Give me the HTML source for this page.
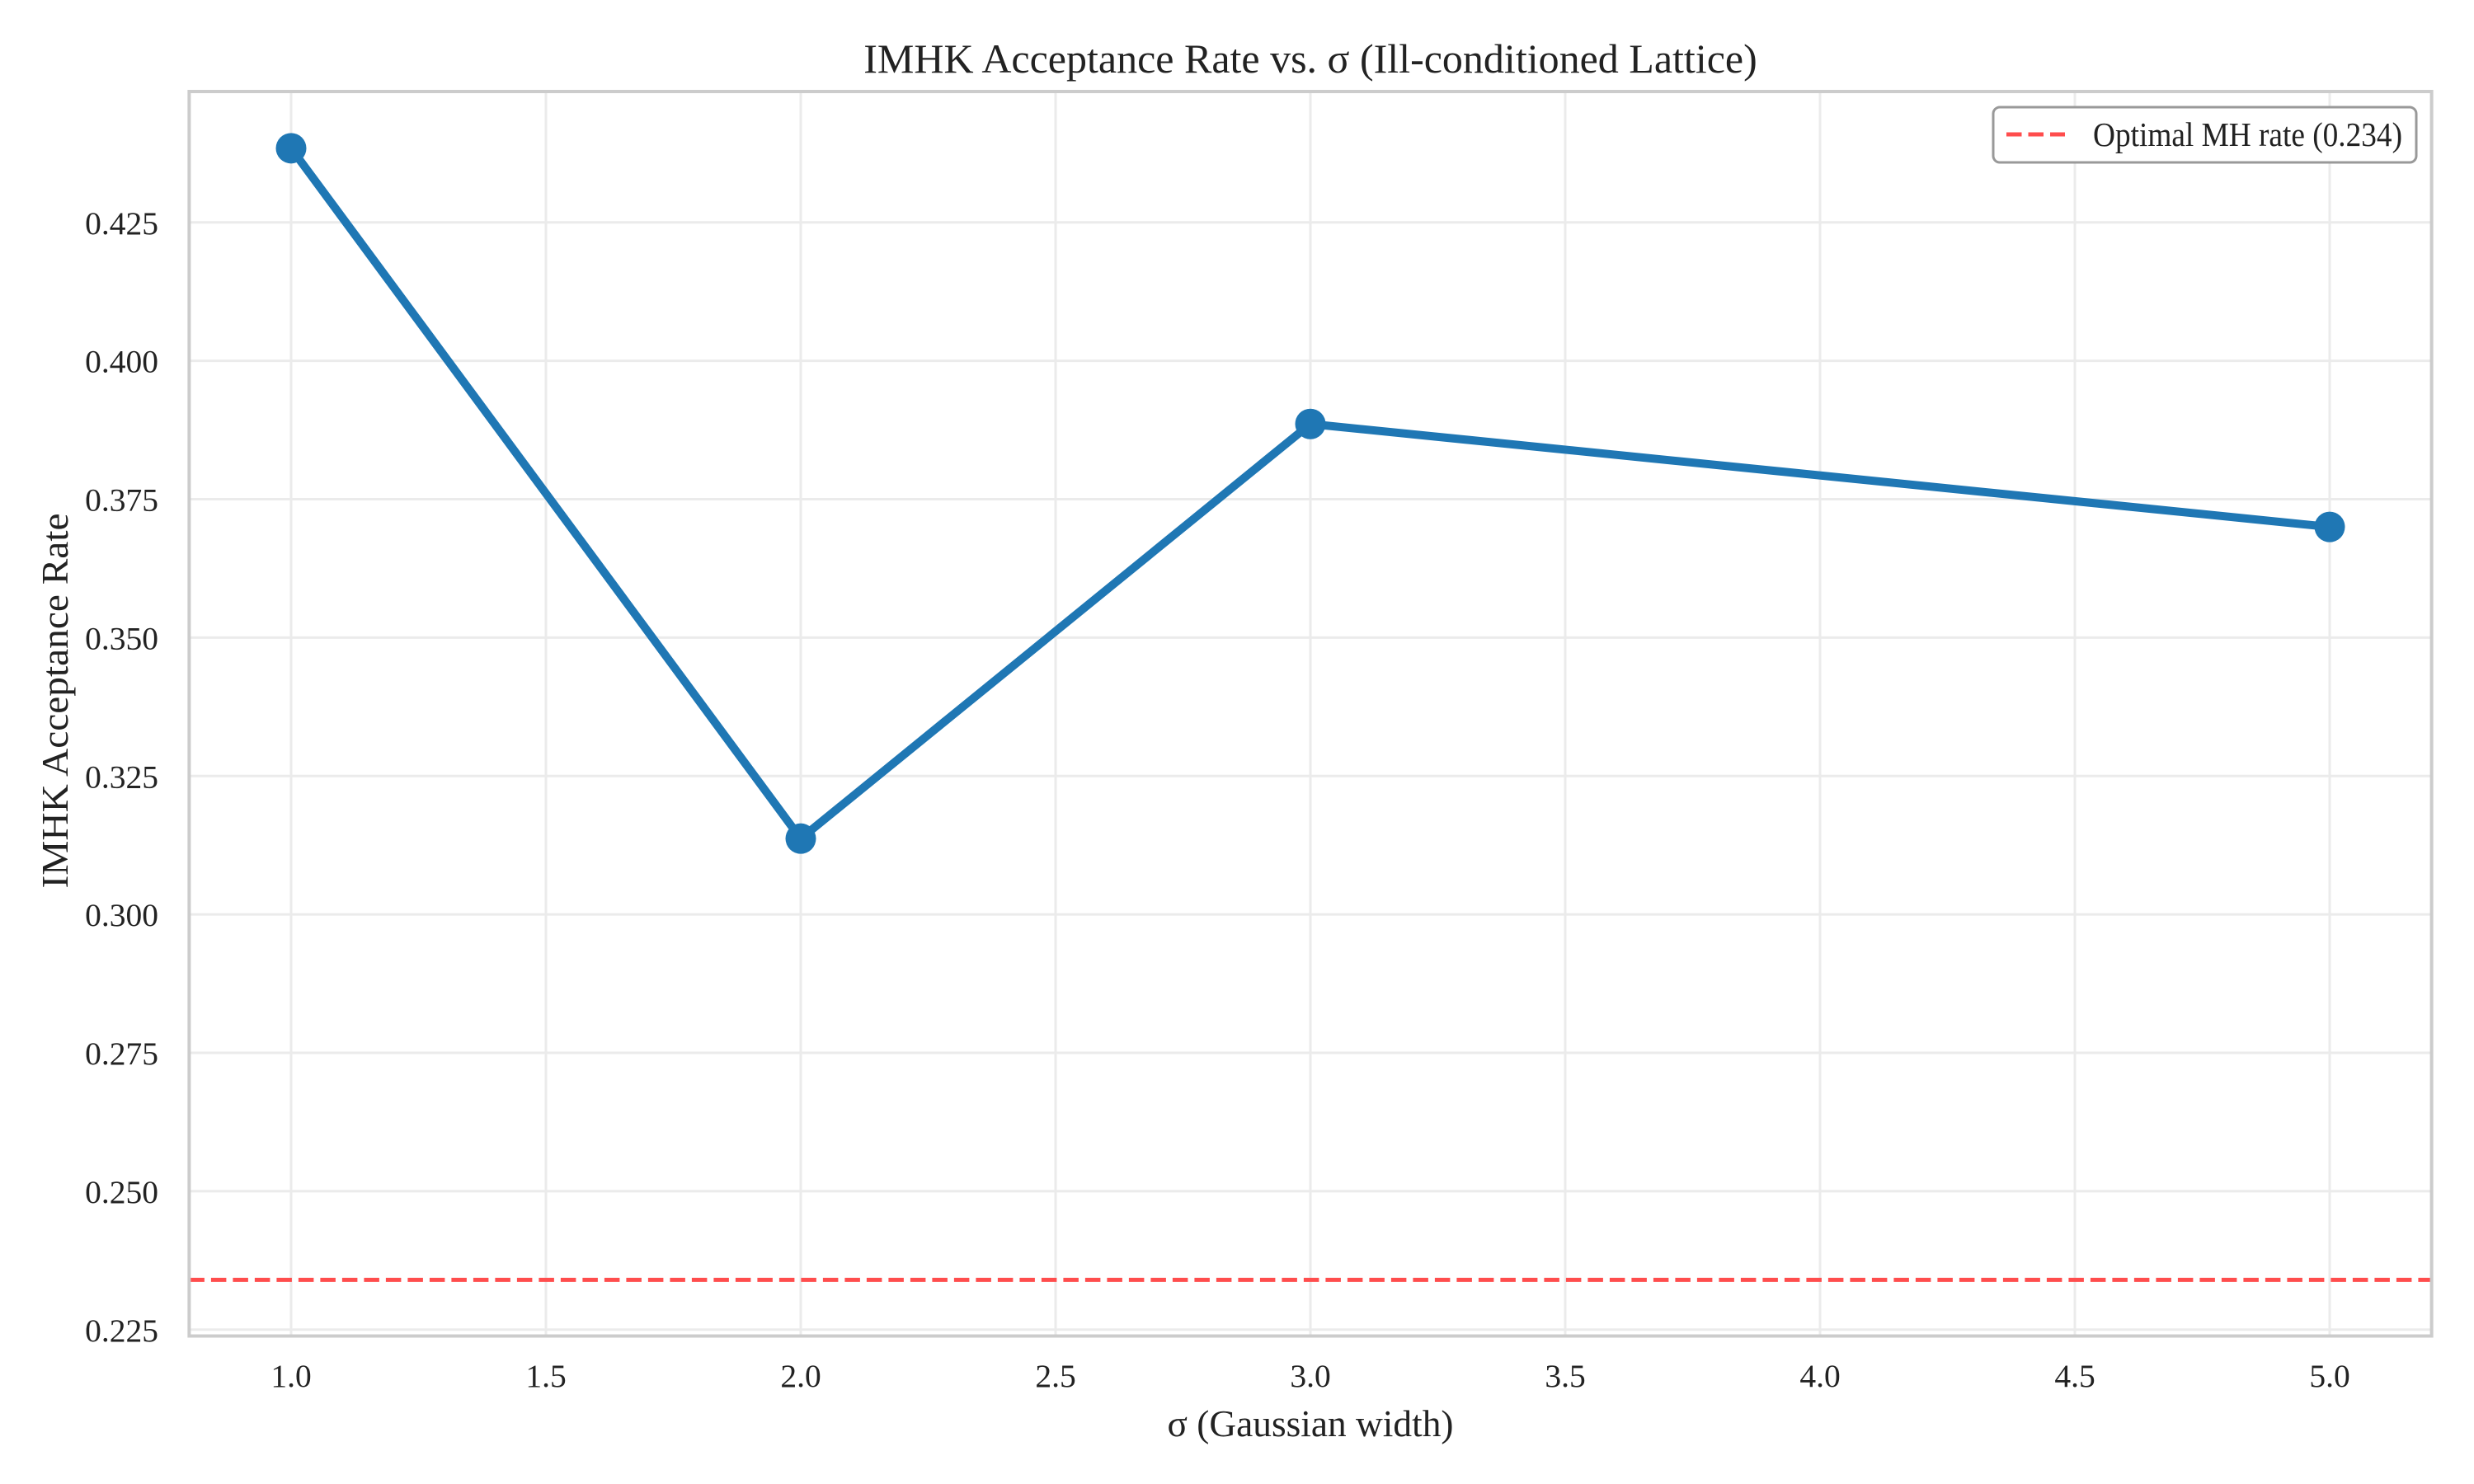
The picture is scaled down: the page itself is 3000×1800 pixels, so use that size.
<!DOCTYPE html>
<html><head><meta charset="utf-8"><style>
html,body{margin:0;padding:0;background:#fff}
svg{display:block;font-family:"Liberation Serif","DejaVu Serif",serif}
</style></head><body>
<svg id="chart" width="3000" height="1800" viewBox="0 0 3000 1800" xmlns="http://www.w3.org/2000/svg">
<rect width="3000" height="1800" fill="#fff"/>
<g id="grid"></g>
<g id="ticks"></g>
<g id="series"></g>
<rect x="229.4" y="111" width="2719.2" height="1509.5" fill="none" stroke="#cccccc" stroke-width="4"/>
<text x="1589" y="88" font-size="50" text-anchor="middle" fill="#222">IMHK Acceptance Rate vs. σ (Ill-conditioned Lattice)</text>
<text x="1589" y="1742" font-size="46" text-anchor="middle" fill="#222" textLength="347" lengthAdjust="spacingAndGlyphs">σ (Gaussian width)</text>
<text x="0" y="0" font-size="46" text-anchor="middle" fill="#222" textLength="455" lengthAdjust="spacingAndGlyphs" transform="translate(82,850) rotate(-90)">IMHK Acceptance Rate</text>
<g>
<rect x="2417" y="130" width="513" height="67" rx="8" fill="#fff" stroke="#999" stroke-width="3"/>
<line x1="2433" y1="163" x2="2504" y2="163" stroke="#ff4d4d" stroke-width="5" stroke-dasharray="18.5,8"/>
<text x="2538" y="177" font-size="41.7" fill="#222" textLength="375" lengthAdjust="spacingAndGlyphs">Optimal MH rate (0.234)</text>
</g>
</svg>
<script>
const sigmaValues = [1.0, 2.0, 3.0, 5.0];
const acceptanceRates = [0.4384, 0.3137, 0.3886, 0.3700];
const optimalRate = [0.234];
const xTickValues = [1.0, 1.5, 2.0, 2.5, 3.0, 3.5, 4.0, 4.5, 5.0];
const xTickLabels = ["1.0","1.5","2.0","2.5","3.0","3.5","4.0","4.5","5.0"];
const yTickValues = [0.225, 0.25, 0.275, 0.3, 0.325, 0.35, 0.375, 0.4, 0.425];
const yTickLabels = ["0.225","0.250","0.275","0.300","0.325","0.350","0.375","0.400","0.425"];

const NS = "http://www.w3.org/2000/svg";
const L = 229.4, R = 2948.6, T = 111, B = 1620.5;
const xMin = 0.8, xMax = 5.2, yMin = 0.22385, yMax = 0.44865;
const xs = v => L + (v - xMin) / (xMax - xMin) * (R - L);
const ys = v => B - (v - yMin) / (yMax - yMin) * (B - T);
function mk(tag, attrs, parent) {
  const e = document.createElementNS(NS, tag);
  for (const k in attrs) e.setAttribute(k, attrs[k]);
  parent.appendChild(e);
  return e;
}
const grid = document.getElementById('grid');
const ticks = document.getElementById('ticks');
const series = document.getElementById('series');

xTickValues.forEach((v, i) => {
  const g = mk('line', {x1: xs(v), x2: xs(v), y1: T, y2: B, stroke: '#ebebeb', 'stroke-width': 3}, grid);
  
  
  const t = mk('text', {x: xs(v), y: 1682, 'font-size': 39.5, 'text-anchor': 'middle', fill: '#222'}, ticks);
  t.textContent = xTickLabels[i];
  
  
});
yTickValues.forEach((v, i) => {
  const g = mk('line', {x1: L, x2: R, y1: ys(v), y2: ys(v), stroke: '#ebebeb', 'stroke-width': 3}, grid);
  
  
  const t = mk('text', {x: 192, y: ys(v) + 14, 'font-size': 39.5, 'text-anchor': 'end', fill: '#222'}, ticks);
  t.textContent = yTickLabels[i];
  
  
});

const ref = mk('line', {x1: L, x2: R, y1: ys(optimalRate[0]), y2: ys(optimalRate[0]), stroke: '#ff4d4d', 'stroke-width': 5, 'stroke-dasharray': '18.5,8'}, series);



const pts = sigmaValues.map((s, i) => xs(s) + ',' + ys(acceptanceRates[i])).join(' ');
const line = mk('polyline', {points: pts, fill: 'none', stroke: '#1f77b4', 'stroke-width': 10, 'stroke-linejoin': 'round', 'stroke-linecap': 'round'}, series);


sigmaValues.forEach((s, i) => {
  const c = mk('circle', {cx: xs(s), cy: ys(acceptanceRates[i]), r: 18.5, fill: '#1f77b4'}, series);
  
  
});
</script>
</body></html>
